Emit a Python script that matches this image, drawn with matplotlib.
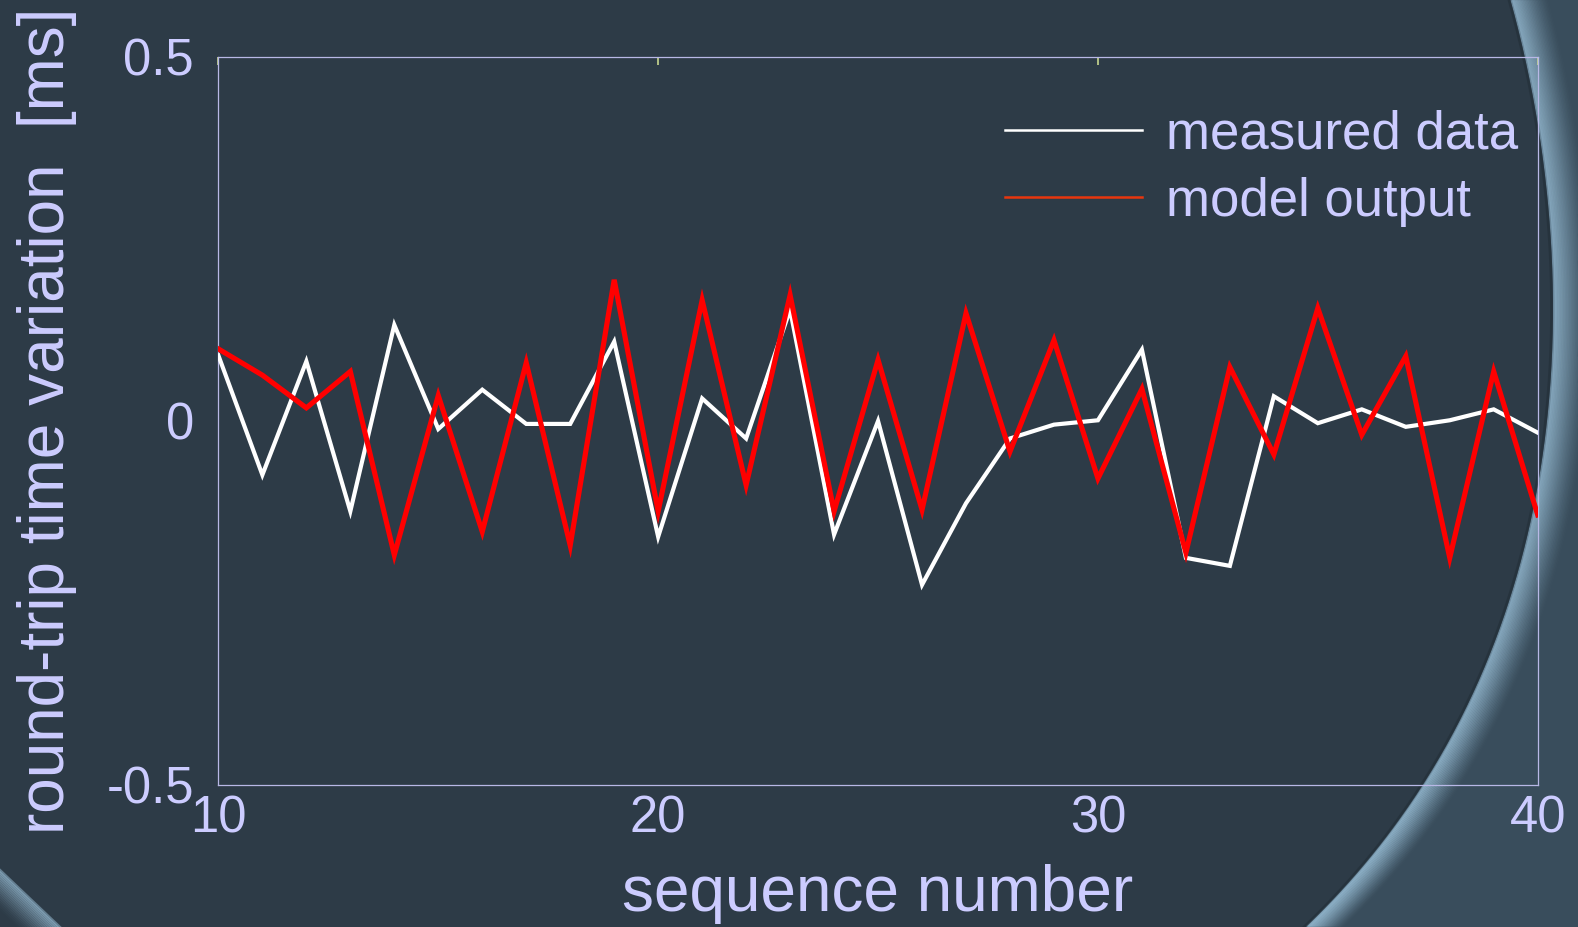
import matplotlib
matplotlib.use("Agg")
import matplotlib.pyplot as plt
import numpy as np
from matplotlib.lines import Line2D

plt.rcParams['font.family'] = ['Liberation Sans', 'DejaVu Sans']

# data
seq = np.arange(10, 41)
measured = [0.090, -0.074, 0.082, -0.124, 0.132, -0.011, 0.043, -0.004, -0.004, 0.109,
            -0.159, 0.031, -0.024, 0.153, -0.156, 0.000, -0.225, -0.113, -0.024, -0.005,
            0.001, 0.098, -0.188, -0.199, 0.034, -0.003, 0.016, -0.008, 0.001, 0.016,
            -0.016]
model = [0.099, 0.063, 0.018, 0.068, -0.184, 0.035, -0.152, 0.080, -0.171, 0.194,
         -0.124, 0.166, -0.088, 0.173, -0.124, 0.084, -0.122, 0.148, -0.042, 0.111,
         -0.079, 0.044, -0.181, 0.074, -0.046, 0.155, -0.019, 0.089, -0.188, 0.068,
         -0.129]
legend_labels = ["measured data", "model output"]

bg_col = '#2d3b47'
txt_col = '#ccccff'
W, H = 1578, 927

fig = plt.figure(figsize=(W / 100, H / 100), dpi=100, facecolor=bg_col)

# background decoration (curved light bands)
bg = fig.add_axes([0, 0, 1, 1], zorder=-5)
bg.set_xlim(0, W)
bg.set_ylim(H, 0)
bg.axis('off')
bg.set_facecolor(bg_col)

t = np.linspace(0, 1, 300)
P0, P1, P2, P3 = (1510, 0), (1580, 250), (1595, 650), (1305, 927)
bx = (1-t)**3*P0[0] + 3*(1-t)**2*t*P1[0] + 3*(1-t)*t**2*P2[0] + t**3*P3[0]
by = (1-t)**3*P0[1] + 3*(1-t)**2*t*P1[1] + 3*(1-t)*t**2*P2[1] + t**3*P3[1]
bg.fill(np.r_[bx, W + 10, W + 10], np.r_[by, H + 10, -10], color='#394d5c', lw=0)
for i in range(26):
    a = 0.5 * (1 - i / 26) ** 1.6
    bg.plot(bx + 2 + i * 1.5, by, color='#9cc2da', alpha=a, lw=2.2,
            solid_capstyle='butt')
bg.plot(bx - 1, by, color='#25313b', lw=2, alpha=0.8)

# small band in lower-left corner
cx = np.linspace(-30, 70, 50)
cy = 842 + (cx + 30) * 0.95
for i in range(18):
    a = 0.5 * (1 - i / 18) ** 1.6
    bg.plot(cx - i * 1.2, cy + i * 1.2, color='#9cc2da', alpha=a, lw=2.2)

# main axes
ax = fig.add_axes([218.4 / W, 1 - 785 / H, (1537.7 - 218.4) / W, (785 - 57) / H])
ax.set_facecolor('none')
ax.plot(seq, measured, color='white', lw=3.0, solid_joinstyle='miter', zorder=3)
ax.plot(seq, model, color='#ff0000', lw=3.7, solid_joinstyle='miter', zorder=4)

ax.set_xlim(10, 40)
ax.set_ylim(-0.5, 0.5)
ax.set_xticks([10, 20, 30, 40])
ax.set_xticklabels(['10', '20', '30', '40'])
ax.set_yticks([-0.5, 0, 0.5])
ax.set_yticklabels(['-0.5', '0', '0.5'])

for s in ax.spines.values():
    s.set_color('#b8b8e6')
    s.set_linewidth(0.9)

ax.tick_params(axis='x', top=True, bottom=False, direction='in', length=6,
               width=1.2, color='#c8d890', labelsize=36.5, labelcolor=txt_col, pad=7)
ax.tick_params(axis='y', left=False, labelsize=36.5, labelcolor=txt_col, pad=14)

ax.set_xlabel('sequence number', fontsize=46, color=txt_col)
ax.xaxis.set_label_coords(0.5, -0.108)
ax.set_ylabel('round-trip time variation  [ms]', fontsize=46, color=txt_col)
ax.yaxis.set_label_coords(-0.107, 0.5)

handles = [Line2D([], [], color='white', lw=1.8),
           Line2D([], [], color='#e8360e', lw=1.8)]
ax.legend(handles, legend_labels, loc='upper right', bbox_to_anchor=(0.985, 0.928),
          frameon=False, fontsize=38, labelcolor=txt_col, handlelength=2.6,
          handletextpad=0.45, labelspacing=0.33, borderpad=0, borderaxespad=0)

fig.savefig('out.png', dpi=100, facecolor=bg_col)
